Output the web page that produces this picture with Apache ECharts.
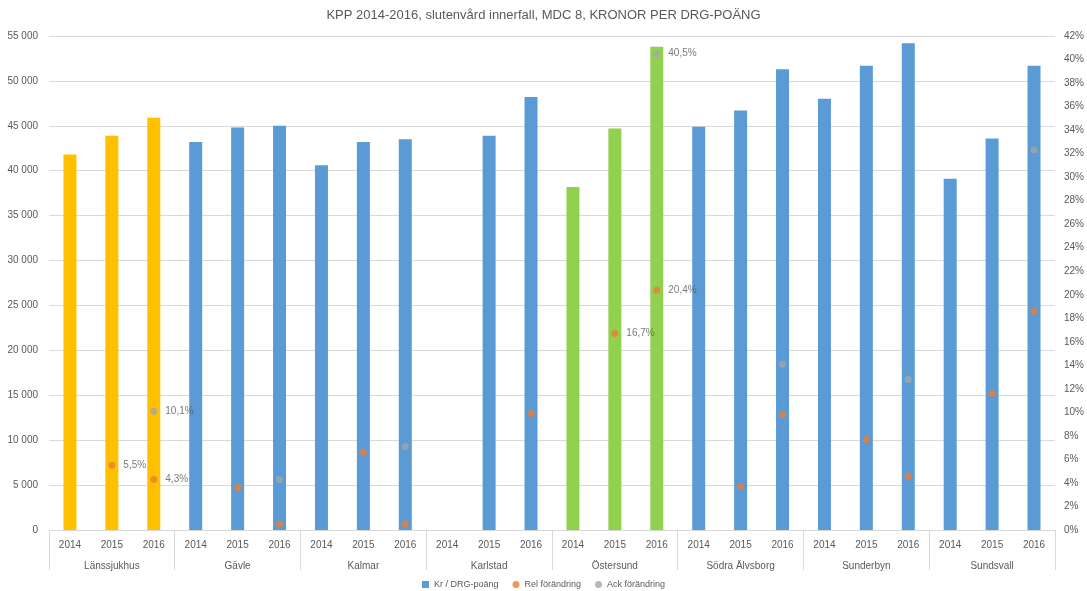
<!DOCTYPE html>
<html>
<head>
<meta charset="utf-8">
<script src="https://cdn.jsdelivr.net/npm/echarts@6/dist/echarts.min.js"></script>
<style>
  html, body { margin: 0; padding: 0; background: #fff; }
  #chart { width: 1087px; height: 591px; }
</style>
</head>
<body>
<div id="chart"></div>
<script>
// Hospitals (outer category level) and years (inner level)
const hospitals = ['Länssjukhus', 'Gävle', 'Kalmar', 'Karlstad', 'Östersund', 'Södra Älvsborg', 'Sunderbyn', 'Sundsvall'];
const years = ['2014', '2015', '2016'];

// Kr / DRG-poäng, three years per hospital (null = no value)
const krPerDrg = [
  41800, 43900, 45900,
  43200, 44800, 45000,
  40600, 43200, 43500,
  null,  43900, 48200,
  38200, 44700, 53800,
  44900, 46700, 51300,
  48000, 51700, 54200,
  39100, 43600, 51700
];

// Rel förändring, percent
const relChange = [
  null, 5.5, 4.3,
  null, 3.6, 0.5,
  null, 6.6, 0.5,
  null, null, 9.9,
  null, 16.7, 20.4,
  null, 3.7, 9.8,
  null, 7.7, 4.6,
  null, 11.6, 18.6
];

// Ack förändring, percent
const accChange = [
  null, null, 10.1,
  null, null, 4.3,
  null, null, 7.1,
  null, null, null,
  null, null, 40.5,
  null, null, 14.1,
  null, null, 12.8,
  null, null, 32.3
];

const leftTicks = { min: 0, max: 55000, interval: 5000 };
const rightTicks = { min: 0, max: 42, interval: 2 };

// Highlighted hospitals get their own bar colour and value labels
const highlightColors = { 'Länssjukhus': '#FFC000', 'Östersund': '#92D050' };
const labelledHospitals = ['Länssjukhus', 'Östersund'];

const BLUE = '#5B9BD5', ORANGE = '#ED7D31', GREY = '#A5A5A5';
const TEXT = '#595959', GRID = '#D9D9D9';
const FONT = '"Liberation Sans", "DejaVu Sans", sans-serif';

const yearCats = [];
const hospitalOf = [];
hospitals.forEach(h => years.forEach(y => { yearCats.push(y); hospitalOf.push(h); }));

const barData = krPerDrg.map((v, i) => {
  const c = highlightColors[hospitalOf[i]];
  return c ? { value: v, itemStyle: { color: c } } : v;
});

const fmtPct = v => v.toFixed(1).replace('.', ',') + '%';
const scatterData = arr => arr.map((v, i) => ({
  value: v,
  label: { show: v != null && labelledHospitals.includes(hospitalOf[i]) }
}));

const fmtThousands = v => String(v).replace(/\B(?=(\d{3})+(?!\d))/g, ' ');

const chart = echarts.init(document.getElementById('chart'), null, { renderer: 'canvas' });
chart.setOption({
  animation: false,
  backgroundColor: '#fff',
  textStyle: { fontFamily: FONT },
  title: {
    text: 'KPP 2014-2016, slutenvård innerfall, MDC 8, KRONOR PER DRG-POÄNG',
    left: 'center', top: 4,
    textStyle: { fontSize: 13, fontWeight: 'normal', color: TEXT, fontFamily: FONT }
  },
  legend: {
    bottom: -3, left: 'center',
    itemWidth: 7, itemHeight: 7, itemGap: 14,
    textStyle: { fontSize: 9, color: TEXT },
    data: [
      { name: 'Kr / DRG-poäng', icon: 'rect' },
      { name: 'Rel förändring', icon: 'circle' },
      { name: 'Ack förändring', icon: 'circle' }
    ]
  },
  grid: { left: 49, right: 29, top: 36, bottom: 61, containLabel: false },
  xAxis: [
    {
      type: 'category', data: yearCats, position: 'bottom',
      axisLine: { show: false }, axisTick: { show: false },
      axisLabel: { color: TEXT, fontSize: 10, margin: 10, interval: 0 }
    },
    {
      type: 'category', data: hospitals, position: 'bottom',
      axisLine: { show: true, lineStyle: { color: GRID } },
      axisTick: { show: true, length: 40, lineStyle: { color: GRID } },
      axisLabel: { color: TEXT, fontSize: 10, margin: 31, interval: 0 }
    }
  ],
  yAxis: [
    {
      type: 'value', min: leftTicks.min, max: leftTicks.max, interval: leftTicks.interval,
      axisLine: { show: false }, axisTick: { show: false },
      splitLine: { lineStyle: { color: GRID } },
      axisLabel: { color: TEXT, fontSize: 10, margin: 11, formatter: fmtThousands }
    },
    {
      type: 'value', min: rightTicks.min, max: rightTicks.max, interval: rightTicks.interval,
      position: 'right',
      axisLine: { show: false }, axisTick: { show: false }, splitLine: { show: false },
      axisLabel: { color: TEXT, fontSize: 10, margin: 9, formatter: '{value}%' }
    }
  ],
  series: [
    {
      name: 'Kr / DRG-poäng', type: 'bar', xAxisIndex: 0, yAxisIndex: 0,
      data: barData, barWidth: 13,
      itemStyle: { color: BLUE }
    },
    {
      name: 'Rel förändring', type: 'scatter', xAxisIndex: 0, yAxisIndex: 1,
      data: scatterData(relChange), symbolSize: 7,
      itemStyle: { color: ORANGE },
      label: { position: 'right', distance: 8, fontSize: 10, color: TEXT,
               formatter: p => fmtPct(p.value) }
    },
    {
      name: 'Ack förändring', type: 'scatter', xAxisIndex: 0, yAxisIndex: 1,
      data: scatterData(accChange), symbolSize: 7,
      itemStyle: { color: GREY },
      label: { position: 'right', distance: 8, fontSize: 10, color: TEXT,
               formatter: p => fmtPct(p.value) }
    }
  ]
});
</script>
</body>
</html>
